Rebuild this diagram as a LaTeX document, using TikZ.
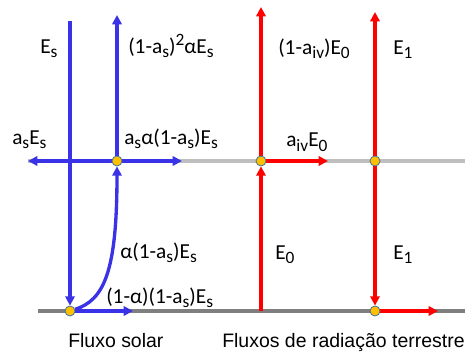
\documentclass[tikz,border=0pt]{standalone}
\usepackage{fontspec}
\setmainfont{Carlito}
\newfontfamily\capfont{Liberation Sans}
\usetikzlibrary{arrows.meta,backgrounds}
\definecolor{solar}{HTML}{3A32E6}
\definecolor{terra}{HTML}{FF0000}
\definecolor{ground}{HTML}{7F7F7F}
\definecolor{toa}{HTML}{BFBFBF}
\definecolor{dotfill}{HTML}{FFC000}
\definecolor{dotline}{HTML}{41719C}
\newcommand{\lo}[1]{\raisebox{-3pt}{\fontsize{13}{13}\selectfont #1}}
\newcommand{\hi}[1]{\raisebox{6pt}{\fontsize{13}{13}\selectfont #1}}
\tikzset{
  flux/.style={-{Triangle[length=7pt,width=7pt]},line width=2.5pt},
  sflux/.style={flux,draw=solar},
  tflux/.style={flux,draw=terra},
  level/.style={line width=2.4pt},
  lbl/.style={font=\fontsize{16}{19}\selectfont,inner sep=0pt,anchor=base west},
  caption/.style={font=\capfont\fontsize{14.6}{17}\selectfont,inner sep=0pt,anchor=base west},
  hit/.style={circle,draw=dotline,fill=dotfill,line width=0.6pt,minimum size=7.5pt,inner sep=0pt},
}
\begin{document}
\begin{tikzpicture}[x=0.75pt,y=-0.75pt]
  \useasboundingbox (0,0) rectangle (465,353);
  % surface and top levels
  \coordinate (toaw) at (28,161); \coordinate (toae) at (465,161);
  \coordinate (gw) at (38,311); \coordinate (ge) at (465,311);
  \node[hit] (sa) at (117,161) {};
  \node[hit] (sg) at (70,311) {};
  \node[hit] (ta) at (261,161) {};
  \node[hit] (tb) at (375,161) {};
  \node[hit] (tg) at (375,311) {};
  \coordinate (sin) at (70,21);
  \coordinate (sup) at (117,15);
  \coordinate (sleft) at (28,161);
  \coordinate (sright) at (182,161);
  \coordinate (sgr) at (133,311);
  \coordinate (tsrc) at (261,311);
  \coordinate (tup) at (261,7);
  \coordinate (tright) at (328,161);
  \coordinate (tbup) at (375,12);
  \coordinate (tgr) at (438,311);
  \begin{scope}[on background layer]
    \draw[level,draw=toa] (toaw) -- (toae);
    \draw[level,draw=ground] (gw) -- (ge);
    % solar fluxes
    \draw[sflux] (sin) -- (sg);
    \draw[sflux] (sg) .. controls (104,300) and (117,272) .. (sa);
    \draw[sflux] (sa) -- (sup);
    \draw[sflux] (sa) -- (sleft);
    \draw[sflux] (sa) -- (sright);
    \draw[sflux] (sg) -- (sgr);
    % terrestrial fluxes
    \draw[tflux] (tsrc) -- (ta);
    \draw[tflux] (ta) -- (tup);
    \draw[tflux] (ta) -- (tright);
    \draw[tflux] (tb) -- (tbup);
    \draw[tflux] (tb) -- (tg);
    \draw[tflux] (tg) -- (tgr);
  \end{scope}
  % labels
  \node[lbl] (les) at (40,54) {E\lo{s}};
  \node[lbl] (lout) at (128,54) {(1-a\lo{s})\hi{2}αE\lo{s}};
  \node[lbl] (lref) at (12,145) {a\lo{s}E\lo{s}};
  \node[lbl] (labs) at (124,145) {a\lo{s}α(1-a\lo{s})E\lo{s}};
  \node[lbl] (ltr) at (278,55) {(1-a\lo{iv})E\lo{0}};
  \node[lbl] (leup) at (393,55) {E\lo{1}};
  \node[lbl] (liv) at (286,147) {a\lo{iv}E\lo{0}};
  \node[lbl] (lsurf) at (120,258) {α(1-a\lo{s})E\lo{s}};
  \node[lbl] (lgabs) at (106,303) {(1-α)(1-a\lo{s})E\lo{s}};
  \node[lbl] (lezero) at (275,259) {E\lo{0}};
  \node[lbl] (ledown) at (393,259) {E\lo{1}};
  \node[caption] (csol) at (68,347) {Fluxo solar};
  \node[caption] (cter) at (222,347) {Fluxos de radiação terrestre};
\end{tikzpicture}
\end{document}
